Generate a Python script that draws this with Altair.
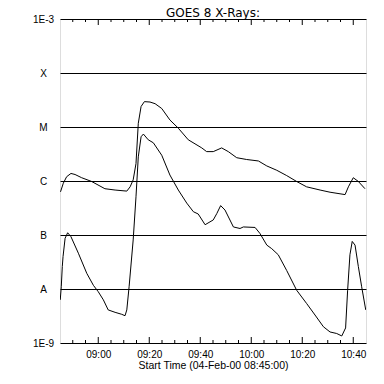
import altair as alt
import pandas as pd

# minutes after 08:45:00 on 04-Feb-00
long_t = [0.2, 1.3, 2.6, 4.3, 5.9, 8.5, 12.4, 17.6, 21.6, 26.2, 27.5, 28.7, 29.8, 30.7,
          31.8, 33.1, 35.3, 37.3, 39.9, 43.1, 46.4, 50.3, 55.6, 57.5, 60.1, 63.4, 66.0,
          69.3, 73.2, 77.8, 81.1, 85.0, 88.9, 92.8, 96.7, 102.0, 105.9, 111.8, 113.1,
          115.0, 117.0, 119.6]
long_flux = [6.3e-7, 9.1e-7, 1.2e-6, 1.38e-6, 1.32e-6, 1.15e-6, 9.8e-7, 7.2e-7, 6.8e-7,
             6.5e-7, 7.8e-7, 1.05e-6, 2.1e-6, 1.17e-5, 2.4e-5, 2.95e-5, 2.9e-5, 2.7e-5,
             2.2e-5, 1.35e-5, 9.5e-6, 5.8e-6, 4.1e-6, 3.5e-6, 3.5e-6, 4.1e-6, 3.5e-6,
             2.7e-6, 2.5e-6, 2.35e-6, 1.9e-6, 1.58e-6, 1.26e-6, 9.8e-7, 7.8e-7, 6.8e-7,
             6.2e-7, 5.6e-7, 7.8e-7, 1.15e-6, 9.8e-7, 7.2e-7]

short_t = [0.1, 0.5, 0.9, 1.2, 2.0, 3.0, 4.3, 7.2, 10.5, 13.1, 15.0, 17.0, 18.9, 21.6,
           24.2, 25.5, 26.2, 27.1, 28.7, 29.8, 30.7, 31.8, 32.7, 34.6, 36.6, 39.9, 43.1,
           46.4, 49.7, 52.3, 54.2, 56.9, 60.1, 61.5, 63.0, 64.7, 68.0, 70.6, 71.9, 76.5,
           78.4, 81.1, 83.0, 85.6, 88.9, 92.8, 96.7, 100.0, 103.3, 105.9, 108.5, 110.5,
           112.0, 112.8, 113.7, 114.6, 115.7, 117.0, 118.3, 119.9]
short_flux = [6.3e-9, 1.1e-8, 2.6e-8, 4.0e-8, 8.7e-8, 1.1e-7, 9.3e-8, 4.6e-8, 1.95e-8,
              1.17e-8, 8.9e-9, 6.3e-9, 4.1e-9, 3.7e-9, 3.4e-9, 3.2e-9, 4.1e-9, 1.1e-8,
              8.1e-8, 5.1e-7, 2.8e-6, 6.6e-6, 7.4e-6, 5.8e-6, 5.1e-6, 3.0e-6, 1.29e-6,
              6.8e-7, 3.9e-7, 2.7e-7, 2.45e-7, 1.55e-7, 1.9e-7, 2.5e-7, 3.5e-7, 2.9e-7,
              1.41e-7, 1.32e-7, 1.41e-7, 1.38e-7, 1.07e-7, 6.5e-8, 5.6e-8, 4.3e-8, 2.2e-8,
              9.5e-9, 5.4e-9, 3.3e-9, 2.0e-9, 1.6e-9, 1.5e-9, 1.35e-9, 1.9e-9, 9.5e-9,
              4.3e-8, 7.6e-8, 6.5e-8, 2.6e-8, 1.1e-8, 4.1e-9]

title_text = "GOES 8 X-Rays:"
y_levels = [1e-9, 1e-8, 1e-7, 1e-6, 1e-5, 1e-4, 1e-3]
y_labels = ["1E-9", "A", "B", "C", "M", "X", "1E-3"]
x_label_mins = [15, 35, 55, 75, 95, 115]
major_ticks = [15, 35, 55, 75, 95, 115]
minor_ticks = [5, 10, 20, 25, 30, 40, 45, 50, 60, 65, 70, 80, 85, 90, 100, 105, 110]

W, H = 306, 324

df = pd.concat([
    pd.DataFrame({"t": long_t, "flux": long_flux, "band": "1-8 A"}),
    pd.DataFrame({"t": short_t, "flux": short_flux, "band": "0.5-4 A"}),
])

x_scale = alt.Scale(domain=[0, 120], nice=False, zero=False)
y_scale = alt.Scale(type="log", domain=[1e-9, 1e-3], nice=False)

label_arr = "[" + ",".join(f"'{s}'" for s in y_labels) + "]"

lines = alt.Chart(df).mark_line(color="black", strokeWidth=1, clip=True).encode(
    x=alt.X("t:Q", scale=x_scale,
            axis=alt.Axis(values=x_label_mins, ticks=False, tickSize=0, domain=False,
                          grid=False, labelPadding=11, labelBaseline="middle",
                          labelExpr="timeFormat(datetime(2000,1,4,8,45+datum.value),'%H:%M')",
                          title="Start Time (04-Feb-00 08:45:00)", titleY=25,
                          titleBaseline="alphabetic", titleFontWeight="normal",
                          titleFontSize=10.5)),
    y=alt.Y("flux:Q", scale=y_scale,
            axis=alt.Axis(values=y_levels, ticks=False, tickSize=0, domain=False,
                          grid=True, gridColor="black", gridOpacity=1, gridWidth=1,
                          labelAlign="center", labelBaseline="middle", labelPadding=17,
                          labelExpr=label_arr + "[round(log(datum.value)/LN10)+9]",
                          title=None)),
    detail="band:N",
)

def tick_layer(vals, length, top):
    d = pd.DataFrame({"t": vals})
    if top:
        enc = dict(y=alt.value(0), y2=alt.value(length))
    else:
        enc = dict(y=alt.value(H), y2=alt.value(H - length))
    return alt.Chart(d).mark_rule(color="black", strokeWidth=1).encode(
        x=alt.X("t:Q", scale=x_scale), **enc)

title_layer = alt.Chart(pd.DataFrame({"label": [title_text]})).mark_text(
    font="DejaVu Sans", fontSize=12, color="black", baseline="alphabetic",
    align="center"
).encode(x=alt.value(W / 2), y=alt.value(-2), text="label:N")

chart = alt.layer(
    lines,
    tick_layer(major_ticks, 6, True), tick_layer(major_ticks, 6, False),
    tick_layer(minor_ticks, 3, True), tick_layer(minor_ticks, 3, False),
    title_layer,
).properties(
    width=W, height=H,
    autosize=alt.AutoSizeParams(type="none"),
    padding={"left": 52, "top": 11, "right": 10, "bottom": 40},
).configure_view(
    stroke="black", strokeWidth=1
).configure_axis(
    labelFont="DejaVu Sans", titleFont="DejaVu Sans", labelFontSize=10.5,
    labelColor="black", titleColor="black",
).configure(background="white")

chart.save("out.html", embed_options={"renderer": "svg", "actions": False})
